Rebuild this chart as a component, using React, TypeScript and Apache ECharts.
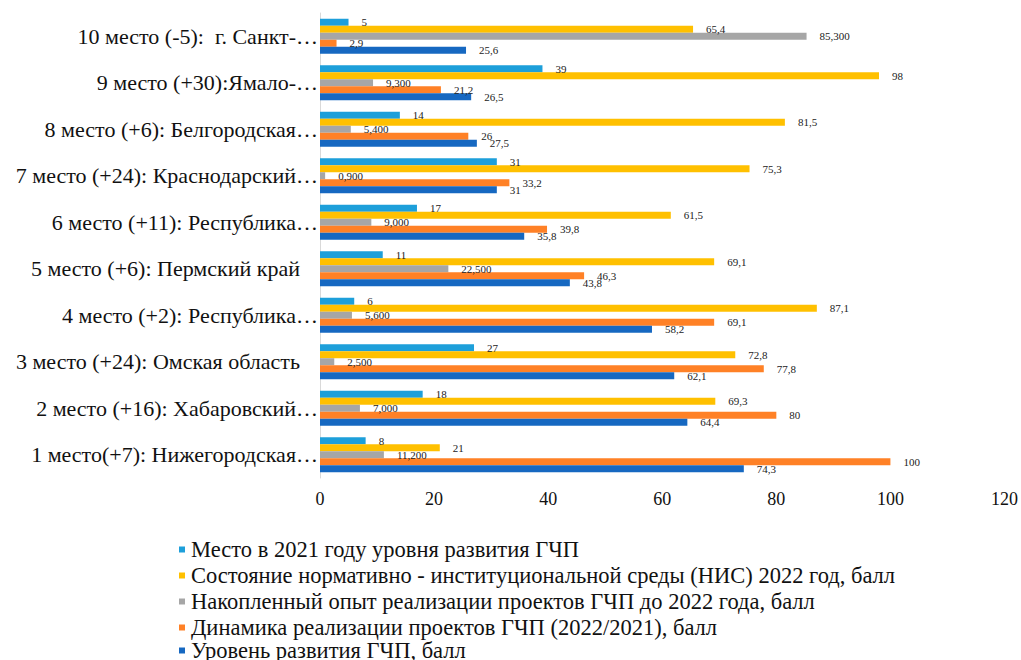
import React, { useEffect, useRef } from "react";
import * as echarts from "echarts";

const categories = [
  "1 место(+7): Нижегородская…",
  "2 место (+16): Хабаровский…",
  "3 место (+24): Омская область",
  "4 место (+2): Республика…",
  "5 место (+6): Пермский край",
  "6 место (+11): Республика…",
  "7 место (+24): Краснодарский…",
  "8 место (+6): Белгородская…",
  "9 место (+30):Ямало-…",
  "10 место (-5):  г. Санкт-…",
];

const seriesNames = [
  "Место в 2021 году уровня развития ГЧП",
  "Состояние нормативно - институциональной среды (НИС) 2022 год, балл",
  "Накопленный опыт реализации проектов ГЧП до 2022 года, балл",
  "Динамика реализации проектов ГЧП (2022/2021), балл",
  "Уровень развития ГЧП, балл",
];

const place2021 = [8, 18, 27, 6, 11, 17, 31, 14, 39, 5];
const nisScore = [21, 69.3, 72.8, 87.1, 69.1, 61.5, 75.3, 81.5, 98, 65.4];
const experienceScore = [11.2, 7.0, 2.5, 5.6, 22.5, 9.0, 0.9, 5.4, 9.3, 85.3];
const dynamicsScore = [100, 80, 77.8, 69.1, 46.3, 39.8, 33.2, 26, 21.2, 2.9];
const levelScore = [74.3, 64.4, 62.1, 58.2, 43.8, 35.8, 31, 27.5, 26.5, 25.6];

const colors = ["#1d9fda", "#ffc000", "#a6a6a6", "#ff8126", "#1668c1"];

const fmt = (v: number) => String(v).replace(".", ",");
const fmt3 = (v: number) => v.toFixed(3).replace(".", ",");

export default function App() {
  const ref = useRef<HTMLDivElement>(null);
  useEffect(() => {
    if (!ref.current) return;
    const chart = echarts.init(ref.current, undefined, { renderer: "svg" });
    const dataSets = [place2021, nisScore, experienceScore, dynamicsScore, levelScore];
    const serif = "Liberation Serif, Times New Roman, serif";
    const legendText = {
      fontFamily: serif,
      fontSize: 22.5,
      lineHeight: 22,
      color: "#111",
      padding: [0, 0, 0, 1],
    };
    const legendBase = {
      orient: "vertical",
      left: 174,
      itemWidth: 6,
      itemHeight: 6,
      itemGap: 3,
      icon: "rect",
      textStyle: legendText,
    };
    chart.setOption({
      animation: false,
      textStyle: { fontFamily: serif },
      grid: { left: 320, right: 16, top: 13, bottom: 182, containLabel: false },
      legend: [
        { ...legendBase, top: 533, data: seriesNames.slice(0, 4) },
        { ...legendBase, top: 634, data: seriesNames.slice(4) },
      ],
      xAxis: {
        type: "value",
        min: 0,
        max: 120,
        interval: 20,
        axisLine: { show: false },
        axisTick: { show: false },
        splitLine: { show: false },
        axisLabel: { fontFamily: serif, fontSize: 18, color: "#111", margin: 12 },
      },
      yAxis: {
        type: "category",
        data: categories,
        axisLine: { show: true, lineStyle: { color: "#d9d9d9", width: 1 } },
        axisTick: { show: false },
        axisLabel: {
          fontFamily: serif,
          fontSize: 22,
          color: "#111",
          margin: 2,
          formatter: (v: string) => (v.endsWith("…") ? `{e|${v}}` : `{n|${v}}`),
          rich: {
            e: { fontFamily: serif, fontSize: 22, color: "#111" },
            n: { fontFamily: serif, fontSize: 22, color: "#111", padding: [0, 18, 0, 0] },
          },
        },
      },
      series: seriesNames.map((name, i) => ({
        name,
        type: "bar",
        data: dataSets[i],
        barWidth: 7,
        barGap: "0%",
        itemStyle: { color: colors[i] },
        label: {
          show: true,
          position: "right",
          distance: 13,
          fontFamily: serif,
          fontSize: 11,
          color: "#222",
          formatter: (p: any) => (i === 2 ? fmt3(p.value) : fmt(p.value)),
        },
      })),
    });
    return () => chart.dispose();
  }, []);
  return (
    <div
      ref={ref}
      style={{ position: "absolute", left: 0, top: 0, width: 1021, height: 660, background: "#fff" }}
    />
  );
}
